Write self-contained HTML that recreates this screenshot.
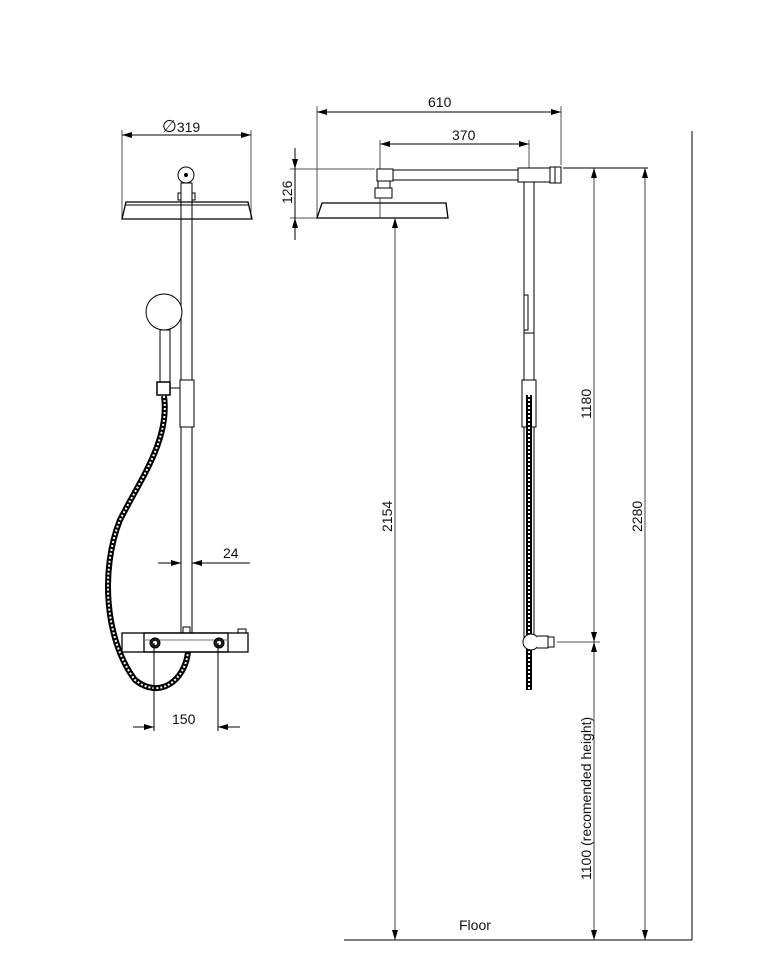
<!DOCTYPE html>
<html><head><meta charset="utf-8"><style>
html,body{margin:0;padding:0;background:#fff}
svg{display:block}
text{font-family:"Liberation Sans",Arial,sans-serif;font-size:14px;fill:#111}
</style></head><body>
<svg width="764" height="975" viewBox="0 0 764 975" xmlns="http://www.w3.org/2000/svg">
<defs>
<marker id="a" viewBox="0 0 10 6" refX="10" refY="3" markerWidth="10" markerHeight="6" orient="auto-start-reverse" markerUnits="userSpaceOnUse"><path d="M0,0 L10,3 L0,6 z" fill="#000"/></marker>
</defs>
<g fill="none" stroke="#000" stroke-width="1">
<!-- LEFT VIEW -->
<line x1="122" y1="130" x2="122" y2="218" stroke="#555"/>
<line x1="251" y1="130" x2="251" y2="218" stroke="#555"/>
<line x1="122" y1="135" x2="251" y2="135" marker-start="url(#a)" marker-end="url(#a)"/>
<path d="M126,202 L248,202 L252,219 L122,219 Z" stroke-width="1.3"/>
<line x1="126" y1="205" x2="248" y2="205"/>
<rect x="181" y="183" width="11" height="450"/>
<circle cx="186" cy="175" r="8" fill="#fff"/>
<circle cx="186" cy="175" r="1.5" fill="#000"/>
<rect x="178" y="193" width="3" height="7"/><rect x="192" y="193" width="3" height="7"/>
<circle cx="164" cy="312" r="18" fill="#fff"/>
<rect x="160" y="330" width="10" height="52" fill="#fff"/>
<rect x="180" y="380" width="14" height="47" fill="#fff"/>
<rect x="157" y="382" width="13" height="13" fill="#fff" stroke-width="1.5"/>
<line x1="170" y1="388" x2="180" y2="388"/>
<path d="M164,396 C170,440 140,480 120,520 C100,570 105,640 135,680 C160,700 185,680 188,652" stroke="#000" stroke-width="6"/>
<path d="M164,396 C170,440 140,480 120,520 C100,570 105,640 135,680 C160,700 185,680 188,652" stroke="#fff" stroke-width="2" stroke-dasharray="2 2"/>
<line x1="158" y1="563" x2="181" y2="563" marker-end="url(#a)"/>
<line x1="250" y1="563" x2="192" y2="563" marker-end="url(#a)"/>
<rect x="122" y="633" width="126" height="19" fill="#fff" stroke-width="1.3"/>
<rect x="144" y="633" width="84" height="19" stroke-width="1.3"/>
<line x1="144" y1="640" x2="228" y2="640" stroke="#777"/>
<rect x="183" y="627" width="7" height="6"/>
<rect x="238" y="629" width="8" height="4"/>
<circle cx="155" cy="643" r="5" fill="#222"/><circle cx="155" cy="643" r="2" fill="#fff" stroke="none"/>
<circle cx="219" cy="643" r="5" fill="#222"/><circle cx="219" cy="643" r="2" fill="#fff" stroke="none"/>
<line x1="154" y1="643" x2="154" y2="731"/>
<line x1="218" y1="643" x2="218" y2="731"/>
<line x1="133" y1="727" x2="154" y2="727" marker-end="url(#a)"/>
<line x1="240" y1="727" x2="218" y2="727" marker-end="url(#a)"/>

<!-- RIGHT VIEW -->
<line x1="317" y1="106" x2="317" y2="218" stroke="#555"/>
<line x1="561" y1="106" x2="561" y2="165" stroke="#555"/>
<line x1="317" y1="112" x2="561" y2="112" marker-start="url(#a)" marker-end="url(#a)"/>
<line x1="380" y1="140" x2="380" y2="218" stroke="#555"/>
<line x1="529" y1="140" x2="529" y2="168" stroke="#555"/>
<line x1="380" y1="144" x2="529" y2="144" marker-start="url(#a)" marker-end="url(#a)"/>
<line x1="290" y1="169" x2="375" y2="169" stroke="#555"/>
<line x1="290" y1="218" x2="317" y2="218" stroke="#555"/>
<line x1="295" y1="148" x2="295" y2="169" marker-end="url(#a)"/>
<line x1="295" y1="240" x2="295" y2="218" marker-end="url(#a)"/>
<line x1="295" y1="169" x2="295" y2="218"/>
<path d="M322,203 L446,203 L448,218 L317,218 Z" stroke-width="1.3"/>
<rect x="393" y="170" width="125" height="10"/>
<rect x="377" y="169" width="16" height="12" fill="#fff"/>
<rect x="378" y="181" width="12" height="7" fill="#fff"/>
<rect x="375" y="188" width="17" height="10" fill="#fff"/>
<rect x="518" y="168" width="32" height="14" fill="#fff"/>
<rect x="550" y="167" width="11" height="16" fill="#fff"/>
<line x1="555" y1="167" x2="555" y2="183"/>
<rect x="524" y="182" width="10" height="455" fill="#fff"/>
<rect x="524" y="295" width="4" height="35"/>
<line x1="524" y1="333" x2="534" y2="333"/>
<rect x="522" y="380" width="14" height="47" fill="#fff"/>
<line x1="529" y1="395" x2="529" y2="690" stroke-width="6"/>
<line x1="529" y1="395" x2="529" y2="690" stroke="#fff" stroke-width="2" stroke-dasharray="2 2"/>
<circle cx="531" cy="642" r="8" fill="#fff"/>
<path d="M537,636 L548,636 L548,648 L537,648" fill="#fff"/>
<rect x="548" y="637" width="6" height="10"/>
<line x1="557" y1="642" x2="600" y2="642" stroke="#555"/>
<line x1="563" y1="168" x2="648" y2="168"/>
<line x1="395" y1="218" x2="395" y2="940" marker-start="url(#a)" marker-end="url(#a)" stroke="#444"/>
<line x1="594" y1="168" x2="594" y2="642" marker-start="url(#a)" marker-end="url(#a)" stroke="#444"/>
<line x1="594" y1="642" x2="594" y2="940" marker-start="url(#a)" marker-end="url(#a)" stroke="#444"/>
<line x1="645" y1="168" x2="645" y2="940" marker-start="url(#a)" marker-end="url(#a)" stroke="#444"/>
<line x1="692" y1="131" x2="692" y2="940"/>
<line x1="344" y1="940" x2="692" y2="940"/>
</g>
<text x="162" y="132"><tspan font-size="17">∅</tspan>319</text>
<text x="223" y="558">24</text>
<text x="172" y="724">150</text>
<text x="428" y="107">610</text>
<text x="452" y="140">370</text>
<text transform="translate(292,204) rotate(-90)">126</text>
<text transform="translate(392,532) rotate(-90)">2154</text>
<text transform="translate(591,419) rotate(-90)">1180</text>
<text transform="translate(591,880) rotate(-90)">1100 (recomended height)</text>
<text transform="translate(642,532) rotate(-90)">2280</text>
<text x="459" y="930">Floor</text>
</svg>
</body></html>
